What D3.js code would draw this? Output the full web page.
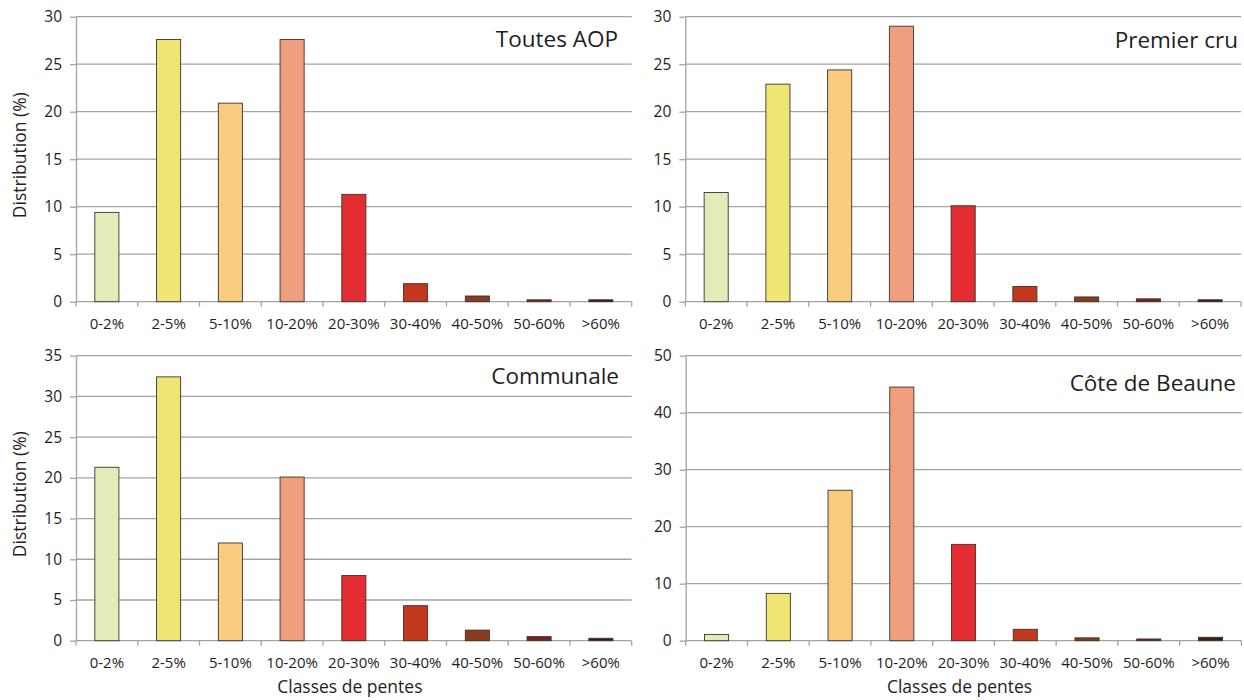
<!DOCTYPE html>
<html>
<head>
<meta charset="utf-8">
<script src="https://cdn.jsdelivr.net/npm/d3@7"></script>
<style>
  html, body { margin: 0; padding: 0; background: #fff; }
  svg { display: block; }
  text { font-family: "Open Sans", "DejaVu Sans", sans-serif; fill: #1e1e1e; }
</style>
</head>
<body>
<svg id="chart" width="1244" height="700"></svg>
<script>
// Slope classes shared by every panel
const categories = ["0-2%", "2-5%", "5-10%", "10-20%", "20-30%", "30-40%", "40-50%", "50-60%", ">60%"];
const classColors = ["#e3ebb8", "#efe574", "#f9cb7f", "#f09e80", "#e32d32", "#c2381f", "#8a3a1e", "#7a2222", "#3a1c12"];

// Distribution (%) by slope class for each appellation level
const toutesAOP   = [9.4, 27.6, 20.9, 27.6, 11.3, 1.9, 0.6, 0.2, 0.2];
const premierCru  = [11.5, 22.9, 24.4, 29.0, 10.1, 1.6, 0.5, 0.3, 0.2];
const communale   = [21.3, 32.4, 12.0, 20.1, 8.0, 4.3, 1.3, 0.5, 0.3];
const coteBeaune  = [1.1, 8.3, 26.4, 44.5, 16.9, 2.0, 0.5, 0.3, 0.6];

// Y-axis tick values per panel
const ticksTop       = [0, 5, 10, 15, 20, 25, 30];
const ticksCommunale = [0, 5, 10, 15, 20, 25, 30, 35];
const ticksBeaune    = [0, 10, 20, 30, 40, 50];

const yTitle = "Distribution (%)";
const xTitle = "Classes de pentes";

const panels = [
  { title: "Toutes AOP",     values: toutesAOP,  ticks: ticksTop,       x0: 76,    x1: 631.7,  y0: 16.7,  y1: 301.7, titleX: 618,  titleY: 47,  yLabel: true,  xLabel: false },
  { title: "Premier cru",    values: premierCru, ticks: ticksTop,       x0: 685.3, x1: 1241,   y0: 16.7,  y1: 301.7, titleX: 1238, titleY: 48,  yLabel: false, xLabel: false },
  { title: "Communale",      values: communale,  ticks: ticksCommunale, x0: 76,    x1: 631.7,  y0: 355.7, y1: 640.7, titleX: 619,  titleY: 384, yLabel: true,  xLabel: true },
  { title: "Côte de Beaune", values: coteBeaune, ticks: ticksBeaune,    x0: 685.7, x1: 1241.4, y0: 355.7, y1: 640.7, titleX: 1236, titleY: 391, yLabel: false, xLabel: true }
];

const svg = d3.select("#chart");
const gridColor = "#a3a3a3";

panels.forEach(p => {
  const g = svg.append("g");

  const x = d3.scaleBand()
    .domain(categories)
    .range([p.x0, p.x1])
    .paddingInner(0.61)
    .paddingOuter(0.305);

  const y = d3.scaleLinear()
    .domain([0, d3.max(p.ticks)])
    .range([p.y1, p.y0]);

  // Horizontal gridlines
  g.append("g")
    .selectAll("line")
    .data(p.ticks.filter(t => t > 0))
    .join("line")
    .attr("x1", p.x0).attr("x2", p.x1)
    .attr("y1", d => y(d)).attr("y2", d => y(d))
    .attr("stroke", gridColor).attr("stroke-width", 1.3);

  // Y axis
  const yAxis = g.append("g")
    .attr("transform", `translate(${p.x0},0)`)
    .call(d3.axisLeft(y).tickValues(p.ticks).tickSize(6).tickSizeOuter(0).tickPadding(8));
  yAxis.select(".domain").attr("stroke", gridColor).attr("stroke-width", 1.3);
  yAxis.selectAll(".tick line").attr("stroke", gridColor).attr("stroke-width", 1.3);
  yAxis.selectAll(".tick text")
    .style("font-family", "'Open Sans', sans-serif")
    .style("font-size", "15.5px").attr("fill", "#1e1e1e");

  // X axis: labels centred under bars, tick marks at class boundaries
  const xAxis = g.append("g")
    .attr("transform", `translate(0,${p.y1})`)
    .call(d3.axisBottom(x).tickSize(0).tickPadding(17));
  xAxis.select(".domain").remove();
  xAxis.selectAll(".tick text")
    .style("font-family", "'Open Sans', sans-serif")
    .style("font-size", "15px").attr("fill", "#1e1e1e");

  g.append("line")
    .attr("x1", p.x0).attr("x2", p.x1)
    .attr("y1", p.y1).attr("y2", p.y1)
    .attr("stroke", gridColor).attr("stroke-width", 1.3);

  const step = x.step();
  const bounds = d3.range(categories.length + 1).map(i => x(categories[0]) - step * x.paddingInner() / 2 + i * step);
  g.append("g")
    .selectAll("line")
    .data(bounds)
    .join("line")
    .attr("x1", d => d).attr("x2", d => d)
    .attr("y1", p.y1).attr("y2", p.y1 + 5)
    .attr("stroke", gridColor).attr("stroke-width", 1.3);

  // Bars
  g.append("g")
    .selectAll("rect")
    .data(p.values)
    .join("rect")
    .attr("x", (d, i) => x(categories[i]))
    .attr("width", x.bandwidth())
    .attr("y", d => y(d))
    .attr("height", d => y(0) - y(d))
    .attr("fill", (d, i) => classColors[i])
    .attr("stroke", "#3d3329")
    .attr("stroke-width", 0.9);

  // Panel title
  g.append("text")
    .attr("x", p.titleX).attr("y", p.titleY)
    .attr("text-anchor", "end")
    .style("font-size", "22.5px")
    .text(p.title);

  if (p.yLabel) {
    g.append("text")
      .attr("transform", `translate(26,${(p.y0 + p.y1) / 2 - 4}) rotate(-90)`)
      .attr("text-anchor", "middle")
      .style("font-size", "17.5px")
      .text(yTitle);
  }
  if (p.xLabel) {
    g.append("text")
      .attr("x", (p.x0 + p.x1) / 2 - 4).attr("y", 693)
      .attr("text-anchor", "middle")
      .style("font-size", "17.5px")
      .text(xTitle);
  }
});
</script>
</body>
</html>
